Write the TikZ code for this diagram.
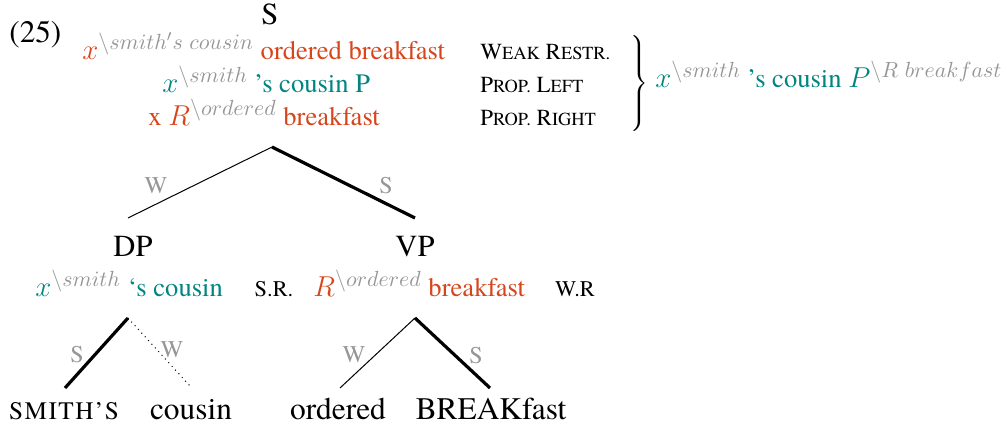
\documentclass[tikz,border=0pt]{standalone}
\usepackage{fontspec}
\IfFontExistsTF{texgyretermes-regular.otf}
  {\setmainfont{texgyretermes}[Extension=.otf, UprightFont=*-regular,
     ItalicFont=*-italic, BoldFont=*-bold, BoldItalicFont=*-bolditalic]}
  {\IfFontExistsTF{TeX Gyre Termes}
     {\setmainfont{TeX Gyre Termes}}
     {\setmainfont{DejaVu Serif}}}
\DeclareMathSizes{13.3}{13.3}{10.8}{8}
\definecolor{accR}{RGB}{214,69,28}
\definecolor{accT}{RGB}{0,133,128}
\definecolor{softgray}{RGB}{150,150,150}
% faked small capitals: the letters are given in upper case at a smaller size
\newcommand{\fsc}[1]{{\fontsize{9.2}{11}\selectfont #1}}
\newcommand{\gsup}[1]{^{\textcolor{softgray}{\backslash #1}}}
\begin{document}
\begin{tikzpicture}[x=0.5pt,y=-0.5pt,
  lbl/.style={font=\fontsize{15.3}{18}\selectfont, inner sep=0pt, anchor=base},
  leaf/.style={font=\fontsize{15.7}{18}\selectfont, inner sep=0pt, anchor=base},
  upper/.style={font=\fontsize{13.3}{16}\selectfont, inner sep=0pt, anchor=base west},
  rule/.style={font=\fontsize{11.5}{14}\selectfont, inner sep=0pt, anchor=base west},
  tag/.style={font=\fontsize{11.2}{13}\selectfont, inner sep=0pt, anchor=base},
  branch/.style={text=softgray, font=\fontsize{12}{14}\selectfont, inner sep=0pt},
  weak/.style={line width=0.5pt},
  strong/.style={line width=1.6pt},
  faint/.style={line width=0.5pt, dotted}]
\useasboundingbox (0,0) rectangle (1002,426);

% example number and root
\node[lbl, anchor=base west, font=\fontsize{15.6}{18}\selectfont] (num) at (9,43) {(25)};
\node[lbl] (S) at (270,25) {S};

% meaning of the root, three lines
\node[upper, text=accR] (l1) at (82,60) {$x\gsup{smith's\ cousin}$ ordered breakfast};
\node[upper, text=accT] (l2) at (162,93) {$x\gsup{smith}$ ’s cousin P};
\node[upper, text=accR] (l3) at (148,126) {x $R\gsup{ordered}$ breakfast};

\node[rule] (r1) at (480,60) {W\fsc{EAK} R\fsc{ESTR.}};
\node[rule] (r2) at (480,93) {P\fsc{ROP.} L\fsc{EFT}};
\node[rule] (r3) at (480,126) {P\fsc{ROP.} R\fsc{IGHT}};

\node[inner sep=0pt] (brace) at (638,85) {$\left.\vrule height 23pt depth 23pt width 0pt\right\}$};
\node[upper, text=accT] (res) at (655,88) {$x\gsup{smith}$ ’s cousin $P\gsup{R\ breakfast}$};

% top branching
\coordinate (top) at (272,147);
\coordinate (dpEnd) at (128,218);
\coordinate (vpEnd) at (415,218);
\draw[weak] (top) -- (dpEnd);
\draw[strong] (top) -- (vpEnd);
\node[branch] (wTop) at (156,186) {W};
\node[branch] (sTop) at (386,186) {S};

\node[lbl] (DP) at (133,257) {DP};
\node[lbl] (VP) at (415,257) {VP};

\node[upper, text=accT] (dpm) at (35,297) {$x\gsup{smith}$ ‘s cousin};
\node[tag] (sr) at (274,297) {S.R.};
\node[upper, text=accR] (vpm) at (313,297) {$R\gsup{ordered}$ breakfast};
\node[tag] (wr) at (575,297) {W.R};

% lower branchings
\coordinate (dpTop) at (128,318);
\coordinate (vpTop) at (415,318);
\coordinate (smEnd) at (65,388);
\coordinate (coEnd) at (190,386);
\coordinate (orEnd) at (340,388);
\coordinate (brEnd) at (490,388);
\draw[strong] (dpTop) -- (smEnd);
\draw[faint] (dpTop) -- (coEnd);
\draw[weak] (vpTop) -- (orEnd);
\draw[strong] (vpTop) -- (brEnd);
\node[branch] (sDP) at (77,355) {S};
\node[branch] (wDP) at (172,350) {W};
\node[branch] (wVP) at (354,355) {W};
\node[branch] (sVP) at (476,356) {S};

% leaves
\node[leaf] (smith) at (64,420) {\fontsize{12.6}{15}\selectfont\addfontfeature{LetterSpace=6}SMITH’S};
\node[leaf] (cousin) at (191,420) {cousin};
\node[leaf] (ordered) at (338,420) {ordered};
\node[leaf] (bfast) at (491,420) {BREAKfast};
\end{tikzpicture}
\end{document}
